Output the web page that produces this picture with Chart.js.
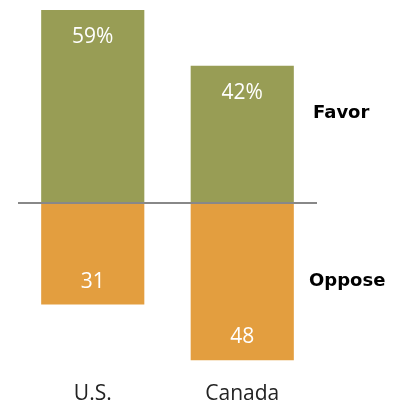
<!DOCTYPE html>
<html>
<head>
<meta charset="utf-8">
<script src="https://cdn.jsdelivr.net/npm/chart.js@4.4.1/dist/chart.umd.min.js"></script>
<style>
  html, body { margin: 0; padding: 0; background: #fff; }
  #wrap { width: 393px; height: 404px; position: relative; }
</style>
</head>
<body>
<div id="wrap"><canvas id="opinion-chart"></canvas></div>
<script>
// Share who favor / oppose, by country
const countries = ['U.S.', 'Canada'];
const favorValues = [59, 42];
const opposeValues = [31, 48];
const seriesNames = ['Favor', 'Oppose'];

const favorColor = '#989D55';
const opposeColor = '#E39E3F';

// Draws the zero line, the value labels inside each bar and the series names on the right
const annotatePlugin = {
    id: 'annotate',
    afterDatasetsDraw(chart) {
        const ctx = chart.ctx;
        const area = chart.chartArea;
        const yScale = chart.scales.y;
        const zeroY = yScale.getPixelForValue(0);

        ctx.save();
        ctx.strokeStyle = '#888888';
        ctx.lineWidth = 2;
        ctx.beginPath();
        ctx.moveTo(area.left, zeroY);
        ctx.lineTo(area.right, zeroY);
        ctx.stroke();

        ctx.fillStyle = '#ffffff';
        ctx.font = '21px "Open Sans", sans-serif';
        ctx.textAlign = 'center';
        ctx.textBaseline = 'middle';
        chart.data.datasets.forEach(function(ds, di) {
            const meta = chart.getDatasetMeta(di);
            meta.data.forEach(function(bar, i) {
                const v = Math.abs(ds.data[i]);
                const text = di === 0 ? v + '%' : String(v);
                const y = di === 0 ? bar.y + 27 : bar.y - 23;
                ctx.fillText(text, bar.x, y);
            });
        });

        ctx.fillStyle = '#000000';
        ctx.font = 'bold 18px "DejaVu Sans", sans-serif';
        ctx.textAlign = 'left';
        ctx.fillText(seriesNames[0], area.right - 4, yScale.getPixelForValue(27.5));
        ctx.fillText(seriesNames[1], area.right - 8, yScale.getPixelForValue(-24));
        ctx.restore();
    }
};

const ctx = document.getElementById('opinion-chart').getContext('2d');
new Chart(ctx, {
    type: 'bar',
    data: {
        labels: countries,
        datasets: [{
            label: seriesNames[0],
            data: favorValues,
            backgroundColor: favorColor,
            borderWidth: 0
        }, {
            label: seriesNames[1],
            data: opposeValues.map(v => -v),
            backgroundColor: opposeColor,
            borderWidth: 0
        }]
    },
    options: {
        responsive: true,
        maintainAspectRatio: false,
        animation: false,
        layout: {
            padding: { left: 18, right: 76, top: 10, bottom: 0 }
        },
        plugins: {
            legend: { display: false },
            tooltip: { enabled: false }
        },
        datasets: {
            bar: {
                barPercentage: 0.69,
                categoryPercentage: 1.0
            }
        },
        scales: {
            x: {
                stacked: true,
                grid: { display: false },
                border: { display: false },
                afterFit: function(scale) { scale.height = 34; },
                ticks: {
                    color: '#222222',
                    padding: 3,
                    font: { family: '"Open Sans", sans-serif', size: 21 }
                }
            },
            y: {
                stacked: true,
                display: false,
                min: -51,
                max: 59
            }
        }
    },
    plugins: [annotatePlugin]
});
</script>
</body>
</html>
